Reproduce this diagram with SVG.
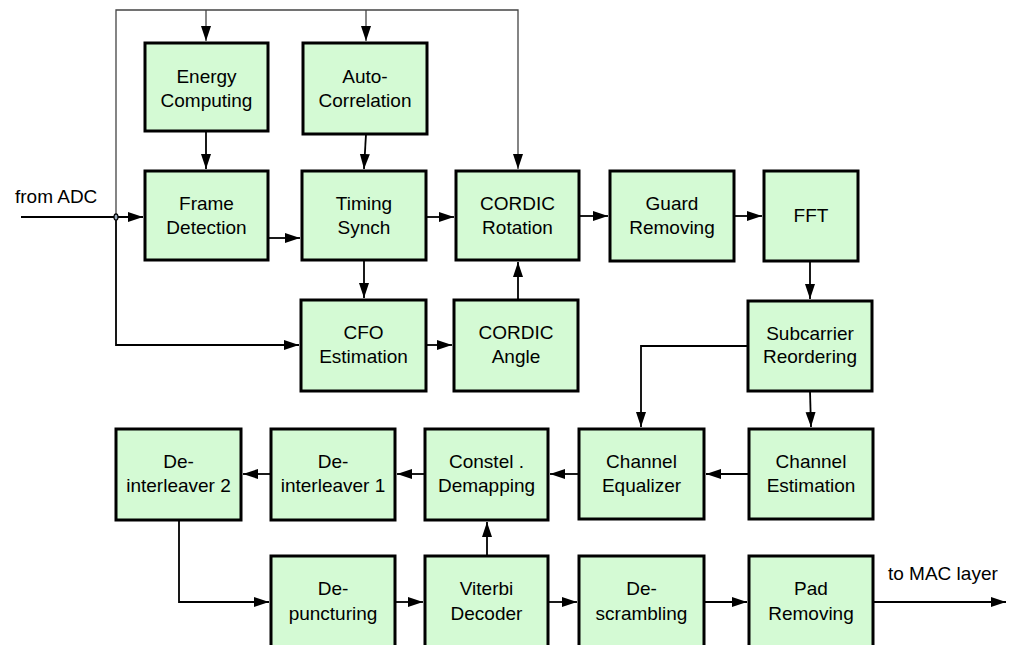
<svg xmlns="http://www.w3.org/2000/svg" width="1011" height="645" viewBox="0 0 1011 645">
  <style>
    .box { fill: #d4fad4; stroke: #000; stroke-width: 3; }
    .lbl { font-family: "Liberation Sans", Arial, sans-serif; font-size: 19px; fill: #000; text-anchor: middle; }
    .io { font-family: "Liberation Sans", Arial, sans-serif; font-size: 19px; fill: #000; }
    .wire { fill: none; stroke: #000; stroke-width: 1.8; }
    .bus { fill: none; stroke: #444; stroke-width: 1.3; }
  </style>
  <defs>
    <marker id="arr" markerUnits="userSpaceOnUse" markerWidth="16" markerHeight="11" refX="15" refY="5" orient="auto">
      <path d="M0,0 L15,5 L0,10 z" fill="#000"/>
    </marker>
  </defs>

  <rect width="1011" height="645" fill="#fff"/>

  <!-- connectors -->
  <g id="connectors">
    <!-- distribution bus from the input tap -->
    <path class="bus" d="M116,217 V10 H518 V169" marker-end="url(#arr)"/>
    <path class="bus" d="M206,10 V41" marker-end="url(#arr)"/>
    <path class="bus" d="M366,10 V41" marker-end="url(#arr)"/>
    <!-- input -->
    <path class="wire" d="M21,217 H143" marker-end="url(#arr)"/>
    <path class="wire" d="M116,217 V345 H299" marker-end="url(#arr)"/>
    <ellipse cx="116" cy="217" rx="2" ry="3.2" fill="#9ab" stroke="#000" stroke-width="1.2"/>
    <!-- acquisition chain -->
    <path class="wire" d="M206,131 V169" marker-end="url(#arr)"/>
    <path class="wire" d="M366,134 L364,169" marker-end="url(#arr)"/>
    <path class="wire" d="M268,238 H300" marker-end="url(#arr)"/>
    <path class="wire" d="M426,217 H454" marker-end="url(#arr)"/>
    <path class="wire" d="M364,260 V298" marker-end="url(#arr)"/>
    <path class="wire" d="M426,345 H452" marker-end="url(#arr)"/>
    <path class="wire" d="M518,300 V262" marker-end="url(#arr)"/>
    <path class="wire" d="M579,216 H608" marker-end="url(#arr)"/>
    <path class="wire" d="M734,216 H762" marker-end="url(#arr)"/>
    <path class="wire" d="M810,261 V299" marker-end="url(#arr)"/>
    <!-- equalization -->
    <path class="wire" d="M748,346 H641 V427" marker-end="url(#arr)"/>
    <path class="wire" d="M810,391 L811,427" marker-end="url(#arr)"/>
    <path class="wire" d="M749,474 H706" marker-end="url(#arr)"/>
    <path class="wire" d="M579,474 H550" marker-end="url(#arr)"/>
    <path class="wire" d="M425,474 H397" marker-end="url(#arr)"/>
    <path class="wire" d="M271,474 H243" marker-end="url(#arr)"/>
    <!-- decoding -->
    <path class="wire" d="M179,520 V602 H269" marker-end="url(#arr)"/>
    <path class="wire" d="M395,602 H423" marker-end="url(#arr)"/>
    <path class="wire" d="M487,556 V522" marker-end="url(#arr)"/>
    <path class="wire" d="M548,602 H577" marker-end="url(#arr)"/>
    <path class="wire" d="M704,602 H747" marker-end="url(#arr)"/>
    <path class="wire" d="M873,602 H1006" marker-end="url(#arr)"/>
  </g>

  <text class="io" x="15" y="203">from ADC</text>
  <text class="io" x="888" y="580">to MAC layer</text>

  <!-- blocks -->
  <g id="energy"><rect class="box" x="145" y="43" width="123" height="88"/>
    <text class="lbl" x="206.5" y="83">Energy</text><text class="lbl" x="206.5" y="107">Computing</text></g>
  <g id="autocorr"><rect class="box" x="303" y="43" width="124" height="91"/>
    <text class="lbl" x="365" y="83">Auto-</text><text class="lbl" x="365" y="107">Correlation</text></g>

  <g id="frame"><rect class="box" x="145" y="171" width="123" height="89"/>
    <text class="lbl" x="206.5" y="210">Frame</text><text class="lbl" x="206.5" y="234">Detection</text></g>
  <g id="timing"><rect class="box" x="302" y="171" width="124" height="89"/>
    <text class="lbl" x="364" y="210">Timing</text><text class="lbl" x="364" y="234">Synch</text></g>
  <g id="cordic-rot"><rect class="box" x="456" y="171" width="123" height="89"/>
    <text class="lbl" x="517.5" y="210">CORDIC</text><text class="lbl" x="517.5" y="234">Rotation</text></g>
  <g id="guard"><rect class="box" x="610" y="171" width="124" height="90"/>
    <text class="lbl" x="672" y="210">Guard</text><text class="lbl" x="672" y="234">Removing</text></g>
  <g id="fft"><rect class="box" x="764" y="171" width="94" height="90"/>
    <text class="lbl" x="811" y="222">FFT</text></g>

  <g id="cfo"><rect class="box" x="301" y="300" width="125" height="91"/>
    <text class="lbl" x="363.5" y="339">CFO</text><text class="lbl" x="363.5" y="363">Estimation</text></g>
  <g id="cordic-angle"><rect class="box" x="454" y="300" width="124" height="91"/>
    <text class="lbl" x="516" y="339">CORDIC</text><text class="lbl" x="516" y="363">Angle</text></g>
  <g id="subcarrier"><rect class="box" x="748" y="301" width="124" height="90"/>
    <text class="lbl" x="810" y="340">Subcarrier</text><text class="lbl" x="810" y="363">Reordering</text></g>

  <g id="deint2"><rect class="box" x="116" y="429" width="125" height="91"/>
    <text class="lbl" x="178.5" y="468">De-</text><text class="lbl" x="178.5" y="492">interleaver 2</text></g>
  <g id="deint1"><rect class="box" x="271" y="429" width="124" height="91"/>
    <text class="lbl" x="333" y="468">De-</text><text class="lbl" x="333" y="492">interleaver 1</text></g>
  <g id="demap"><rect class="box" x="425" y="429" width="123" height="91"/>
    <text class="lbl" x="486.5" y="468">Constel .</text><text class="lbl" x="486.5" y="492">Demapping</text></g>
  <g id="equalizer"><rect class="box" x="579" y="429" width="125" height="90"/>
    <text class="lbl" x="641.5" y="468">Channel</text><text class="lbl" x="641.5" y="492">Equalizer</text></g>
  <g id="chest"><rect class="box" x="749" y="429" width="124" height="90"/>
    <text class="lbl" x="811" y="468">Channel</text><text class="lbl" x="811" y="492">Estimation</text></g>

  <g id="depunct"><rect class="box" x="271" y="556" width="124" height="92"/>
    <text class="lbl" x="333" y="595">De-</text><text class="lbl" x="333" y="620">puncturing</text></g>
  <g id="viterbi"><rect class="box" x="425" y="556" width="123" height="92"/>
    <text class="lbl" x="486.5" y="595">Viterbi</text><text class="lbl" x="486.5" y="620">Decoder</text></g>
  <g id="descramble"><rect class="box" x="579" y="556" width="125" height="92"/>
    <text class="lbl" x="641.5" y="595">De-</text><text class="lbl" x="641.5" y="620">scrambling</text></g>
  <g id="padrm"><rect class="box" x="749" y="556" width="124" height="92"/>
    <text class="lbl" x="811" y="595">Pad</text><text class="lbl" x="811" y="620">Removing</text></g>
</svg>
